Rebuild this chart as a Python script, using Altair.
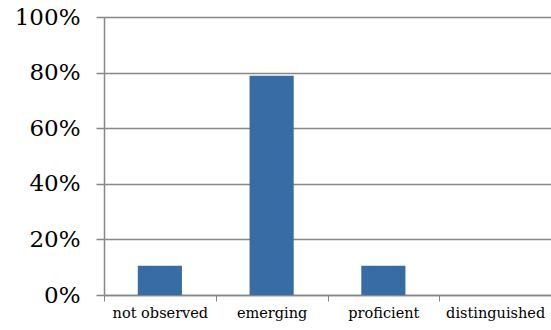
import altair as alt
import pandas as pd

# Share of ratings in each performance level
levels = ["not observed", "emerging", "proficient", "distinguished"]
shares = [0.105, 0.789, 0.105, 0.0]

df = pd.DataFrame({"level": levels, "share": shares})

GRID = "#878787"
SERIF = "DejaVu Serif"

chart = (
    alt.Chart(df)
    .mark_bar(color="#386ca4", width=alt.RelativeBandSize(0.395))
    .encode(
        x=alt.X(
            "level:N",
            sort=levels,
            scale=alt.Scale(paddingInner=0, paddingOuter=0),
            axis=alt.Axis(
                title=None,
                labelAngle=0,
                labelFont=SERIF,
                labelFontSize=14.5,
                labelColor="#000000",
                labelPadding=5,
                tickBand="extent",
                tickSize=6,
                tickColor=GRID,
                domainColor=GRID,
                domainWidth=1.5,
            ),
        ),
        y=alt.Y(
            "share:Q",
            scale=alt.Scale(domain=[0, 1], nice=False),
            axis=alt.Axis(
                title=None,
                format=".0%",
                values=[0, 0.2, 0.4, 0.6, 0.8, 1.0],
                labelFont=SERIF,
                labelFontSize=23,
                labelColor="#000000",
                labelPadding=16,
                tickSize=8,
                tickColor=GRID,
                tickWidth=1.5,
                domainColor=GRID,
                domainWidth=1.5,
                grid=True,
                gridColor=GRID,
                gridWidth=1.5,
            ),
        ),
    )
    .properties(
        width=447,
        height=278,
        autosize=alt.AutoSizeParams(type="none"),
        padding={"left": 104, "top": 17, "right": 0, "bottom": 35},
    )
    .configure_view(stroke=None)
    .configure(background="#ffffff")
)

chart.save("out.html", embed_options={"renderer": "svg", "actions": False})
